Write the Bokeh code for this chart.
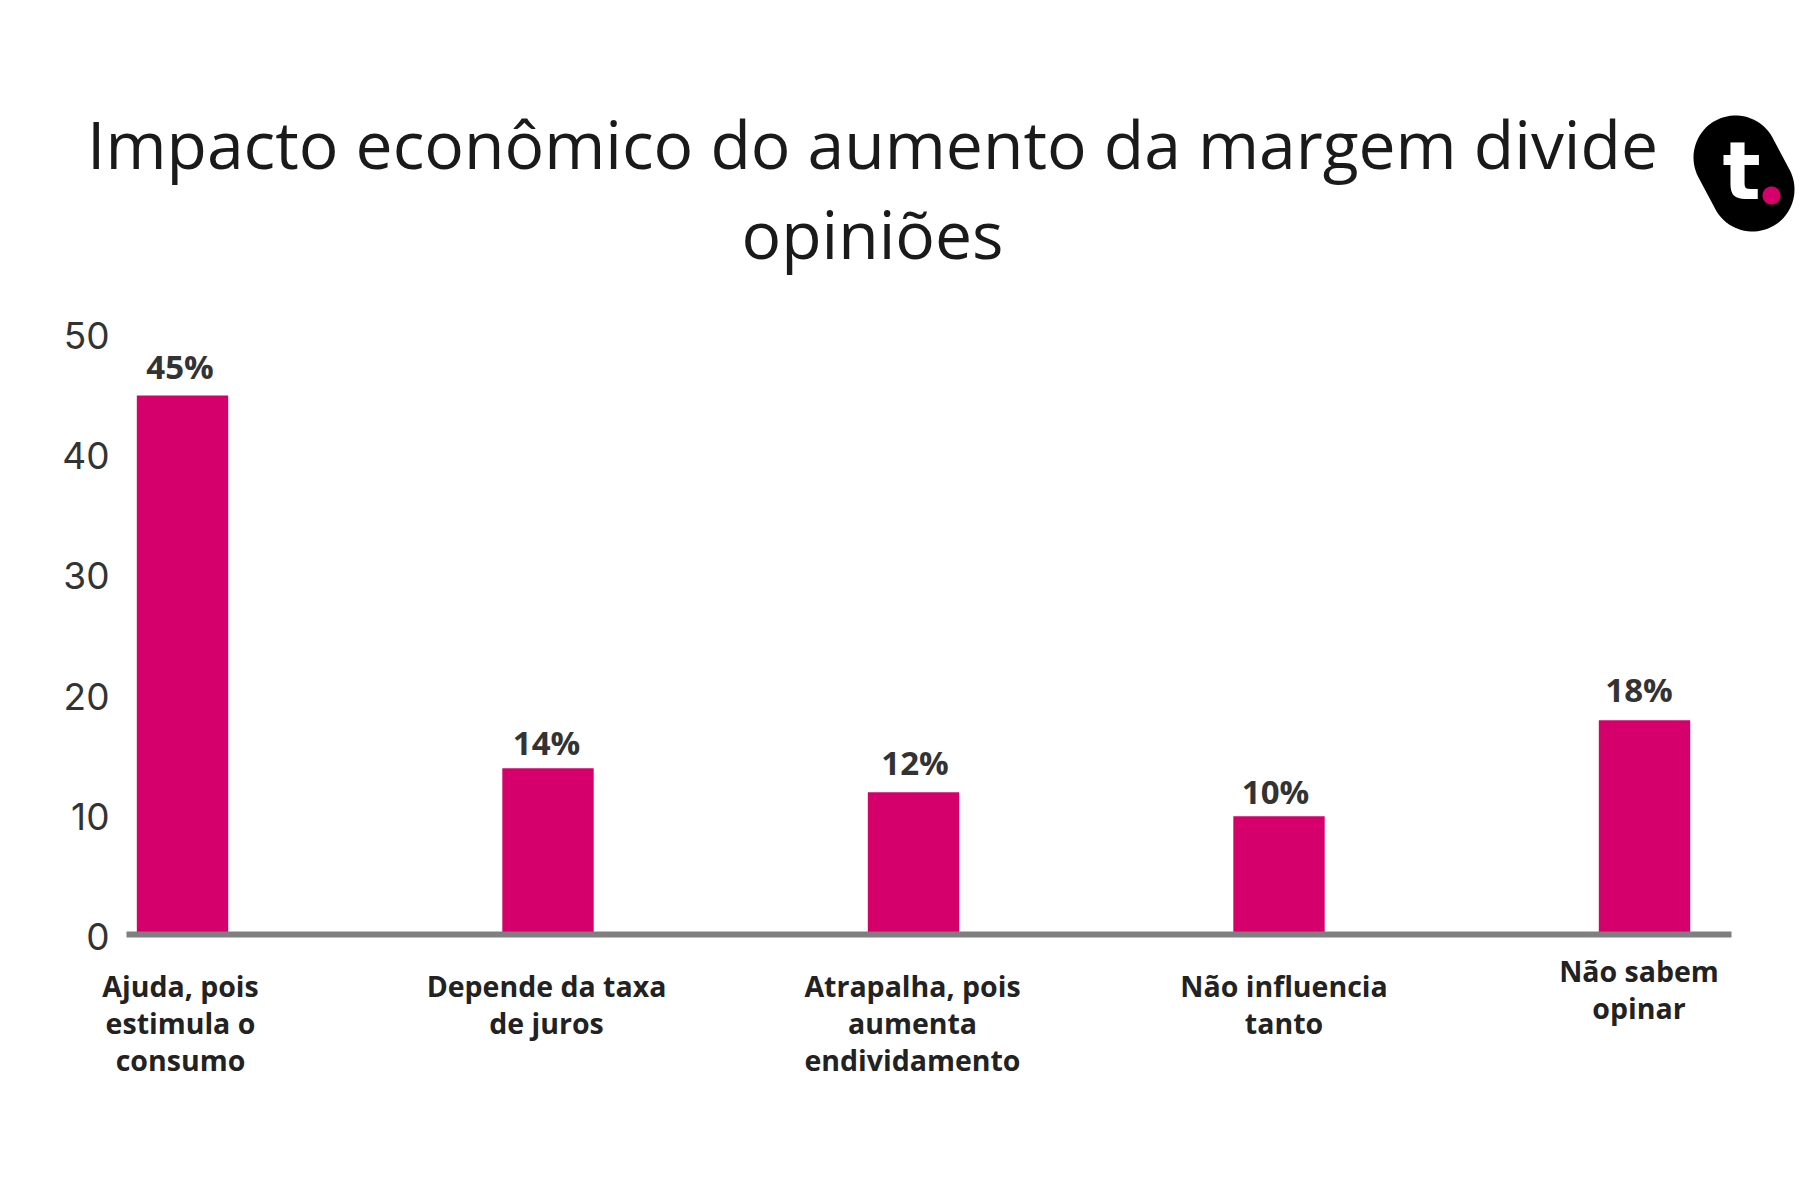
import numpy as np
from bokeh.plotting import figure
from bokeh.core.properties import value
from bokeh.models import (ColumnDataSource, Range1d, FixedTicker, Label, PolyAnnotation, LinearAxis)
from bokeh.embed import file_html
from bokeh.resources import INLINE

categories = ["Ajuda, pois\nestimula o\nconsumo", "Depende da taxa\nde juros",
              "Atrapalha, pois\naumenta\nendividamento", "Não influencia\ntanto",
              "Não sabem\nopinar"]
values = [45, 14, 12, 10, 18]
y_ticks = [0, 10, 20, 30, 40, 50]
title_text = "Impacto econômico do aumento da margem divide\nopiniões"

PINK = "#d6006c"
OPEN = "Open Sans"
W, H = 1800, 1200
# scale geometry: canvas px of category 0 / spacing, zero line / px per unit
X0, DX = 182.0, 365.5
Y0, DY = 936.0, 12.02

indices = list(range(len(categories)))
src = ColumnDataSource(dict(x=indices, v=values, txt=[f"{v}%" for v in values],
                            dx=[-2.5, -1.5, 1.5, -3.5, -5.5], dy=[-7, -3, -7, -2, -8]))
cat_src = ColumnDataSource(dict(x=indices, y=[0] * len(indices), txt=categories,
                                dx=[-2, -1.5, -1, 5, -5.5], dy=[30, 30, 30, 30, 15]))

p = figure(width=W, height=H, output_backend="svg", toolbar_location=None,
           x_range=Range1d(-X0 / DX, (W - X0) / DX), y_range=Range1d((Y0 - H) / DY, Y0 / DY),
           min_border=0, background_fill_color="white", border_fill_color="white",
           x_axis_location=None, y_axis_location=None)
p.outline_line_color = None
p.grid.visible = False

xa = LinearAxis(fixed_location=0.15, bounds=((126 - X0) / DX, (1731 - X0) / DX))
ya = LinearAxis(fixed_location=(126 - X0) / DX)
p.add_layout(xa, "below")
p.add_layout(ya, "left")

p.vbar(x="x", top="v", width=0.25, bottom=0, source=src, fill_color=PINK, line_color=None)

p.text(x="x", y="v", text="txt", source=src, text_align="center", text_baseline="bottom",
       x_offset="dx", y_offset="dy", text_font=value(OPEN), text_font_style="bold",
       text_font_size="33px", text_color="#333333")

p.text(x="x", y="y", text="txt", source=cat_src, text_align="center", text_baseline="top",
       x_offset="dx", y_offset="dy", text_font=value(OPEN), text_font_style="bold",
       text_font_size="28.5px", text_color="#222222", text_line_height=0.98)

xa.ticker = FixedTicker(ticks=[])
xa.axis_line_color = "#7f7f7f"
xa.axis_line_width = 6
xa.major_tick_line_color = None
xa.minor_tick_line_color = None

ya.ticker = FixedTicker(ticks=y_ticks)
ya.axis_line_color = None
ya.major_tick_line_color = None
ya.minor_tick_line_color = None
ya.major_label_standoff = 11
ya.major_label_text_font = "Inter"
ya.major_label_text_font_size = "37px"
ya.major_label_text_color = "#333333"

p.add_layout(Label(x=872, y=97, x_units="canvas", y_units="canvas", text=title_text,
                   text_align="center", text_baseline="top", text_font=OPEN,
                   text_font_size="66px", text_color="#1a1a1a", text_line_height=1.01))

def capsule(x1, y1, x2, y2, r):
    a = np.arctan2(y2 - y1, x2 - x1)
    t1 = np.linspace(a + np.pi / 2, a + 3 * np.pi / 2, 40)
    t2 = np.linspace(a - np.pi / 2, a + np.pi / 2, 40)
    xs = np.r_[x1 + r * np.cos(t1), x2 + r * np.cos(t2)]
    ys = np.r_[y1 + r * np.sin(t1), y2 + r * np.sin(t2)]
    return xs.tolist(), ys.tolist()

cx, cy = capsule(1735, 157, 1752, 189, 42)
p.add_layout(PolyAnnotation(xs=cx, ys=cy, xs_units="canvas", ys_units="canvas",
                            fill_color="black", fill_alpha=1, line_color=None, level="overlay",
                            editable=False))
dx, dy = capsule(1771, 195, 1771.01, 195, 9)
p.add_layout(PolyAnnotation(xs=dx, ys=dy, xs_units="canvas", ys_units="canvas",
                            fill_color=PINK, fill_alpha=1, line_color=None, level="overlay"))
p.add_layout(Label(x=1741, y=171, x_units="canvas", y_units="canvas", text="t", text_align="center",
                   text_baseline="alphabetic", text_font="DejaVu Sans", text_font_style="bold",
                   text_font_size="80px", text_color="white", level="overlay"))

open("out.html", "w").write(file_html(p, INLINE))
